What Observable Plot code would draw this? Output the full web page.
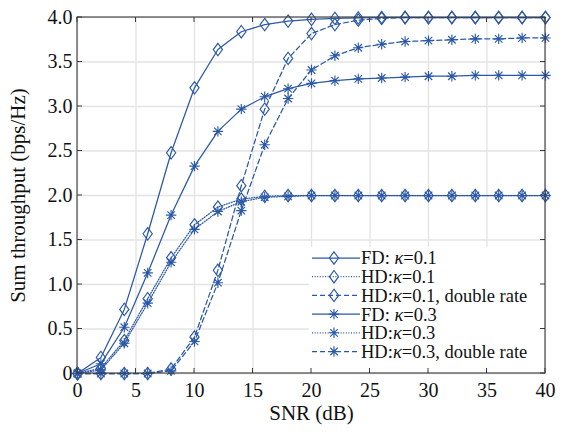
<!DOCTYPE html>
<html>
<head>
<meta charset="utf-8">
<script src="https://cdn.jsdelivr.net/npm/d3@7"></script>
<script src="https://cdn.jsdelivr.net/npm/@observablehq/plot@0.6"></script>
<style>
  html, body { margin: 0; padding: 0; background: #fff; }
  #chart { width: 565px; height: 435px; }
  #chart svg text { font-family: "Liberation Serif", "Times New Roman", serif; }
</style>
</head>
<body>
<div id="chart"></div>
<script>
// ---- data ----
const snr = [0, 2, 4, 6, 8, 10, 12, 14, 16, 18, 20, 22, 24, 26, 28, 30, 32, 34, 36, 38, 40];
const fdK01 = [0, 0.18, 0.72, 1.57, 2.48, 3.21, 3.64, 3.84, 3.92, 3.96, 3.98, 3.99, 3.995, 4.0, 4.0, 4.0, 4.0, 4.0, 4.0, 4.0, 4.0];
const hdK01 = [0, 0.06, 0.37, 0.84, 1.30, 1.67, 1.87, 1.96, 1.99, 2.0, 2.0, 2.0, 2.0, 2.0, 2.0, 2.0, 2.0, 2.0, 2.0, 2.0, 2.0];
const hdK01Double = [0, 0, 0, 0, 0.05, 0.41, 1.16, 2.11, 2.97, 3.54, 3.82, 3.92, 3.97, 3.99, 4.0, 4.0, 4.0, 4.0, 4.0, 4.0, 4.0];
const fdK03 = [0, 0.11, 0.52, 1.13, 1.78, 2.33, 2.72, 2.97, 3.11, 3.20, 3.26, 3.29, 3.31, 3.32, 3.33, 3.34, 3.34, 3.35, 3.35, 3.35, 3.35];
const hdK03 = [0, 0.04, 0.34, 0.79, 1.25, 1.62, 1.82, 1.93, 1.98, 1.99, 2.0, 2.0, 2.0, 2.0, 2.0, 2.0, 2.0, 2.0, 2.0, 2.0, 2.0];
const hdK03Double = [0, 0, 0, 0, 0.03, 0.36, 1.02, 1.83, 2.57, 3.09, 3.41, 3.57, 3.66, 3.70, 3.73, 3.74, 3.75, 3.76, 3.76, 3.77, 3.77];

const seriesLabels = [
  ["FD: ", "=0.1", ""],
  ["HD:", "=0.1", ""],
  ["HD:", "=0.1", ", double rate"],
  ["FD: ", "=0.3", ""],
  ["HD:", "=0.3", ""],
  ["HD:", "=0.3", ", double rate"]
];
const seriesValues = [fdK01, hdK01, hdK01Double, fdK03, hdK03, hdK03Double];
const xTicks = [0, 5, 10, 15, 20, 25, 30, 35, 40];
const yTicks = [0, 0.5, 1.0, 1.5, 2.0, 2.5, 3.0, 3.5, 4.0];
const xTitle = "SNR (dB)";
const yTitle = "Sum throughput (bps/Hz)";

// ---- styles ----
const blue = "#2b59a6";
const serif = "Liberation Serif";
const diamondTall = {
  draw(ctx, size) {
    const r = Math.sqrt(size / Math.PI);
    const w = r, h = r * 1.35;
    ctx.moveTo(0, -h); ctx.lineTo(w, 0); ctx.lineTo(0, h); ctx.lineTo(-w, 0); ctx.closePath();
  }
};
const star8 = {
  draw(ctx, size) {
    const r = Math.sqrt(size / Math.PI);
    const d = r * 0.72;
    ctx.moveTo(0, -r); ctx.lineTo(0, r);
    ctx.moveTo(-r, 0); ctx.lineTo(r, 0);
    ctx.moveTo(-d, -d); ctx.lineTo(d, d);
    ctx.moveTo(-d, d); ctx.lineTo(d, -d);
  }
};
const styles = [
  {dash: null, symbol: diamondTall, r: 4.6},
  {dash: "1,1.6", symbol: diamondTall, r: 4.6},
  {dash: "5,3", symbol: diamondTall, r: 4.6},
  {dash: null, symbol: star8, r: 5.2},
  {dash: "1,1.6", symbol: star8, r: 5.2},
  {dash: "5,3", symbol: star8, r: 5.2}
];

const W = 565, H = 435;
const M = {top: 17, right: 20, bottom: 62, left: 77};

const tables = seriesValues.map(vals => snr.map((s, i) => ({snr: s, v: vals[i]})));

const marks = [
  Plot.gridX(xTicks, {stroke: "#e3e3e3", strokeOpacity: 1, strokeWidth: 1.3}),
  Plot.gridY(yTicks, {stroke: "#e3e3e3", strokeOpacity: 1, strokeWidth: 1.3}),
  Plot.axisX(xTicks, {tickSize: 0, tickPadding: 9, tickFormat: d => String(d), label: null, fontSize: 20}),
  Plot.axisY(yTicks, {tickSize: 0, tickPadding: 5, tickFormat: d => d === 0 ? "0" : d.toFixed(1), label: null, fontSize: 20}),
  Plot.text([xTitle], {frameAnchor: "bottom", dy: 46, fontSize: 21, fill: "#111", textAnchor: "middle"}),
  Plot.text([yTitle], {frameAnchor: "left", dx: -59, rotate: -90, fontSize: 21, fill: "#111", textAnchor: "middle"})
];
tables.forEach((t, k) => {
  const st = styles[k];
  marks.push(Plot.line(t, {x: "snr", y: "v", stroke: blue, strokeWidth: 1.25, strokeDasharray: st.dash}));
  marks.push(Plot.dot(t, {x: "snr", y: "v", symbol: st.symbol, r: st.r, fill: "none", stroke: blue, strokeWidth: 1.15}));
});

const chart = Plot.plot({
  width: W, height: H,
  marginTop: M.top, marginRight: M.right, marginBottom: M.bottom, marginLeft: M.left,
  style: {fontFamily: serif, fontSize: "20px", background: "#fff", color: "#111"},
  x: {domain: [0, 40], type: "linear"},
  y: {domain: [0, 4], type: "linear"},
  marks
});
document.getElementById("chart").appendChild(chart);

// ---- legend (pixel space inside the axes) ----
const svgSel = d3.select(chart);
const innerW = W - M.left - M.right, innerH = H - M.top - M.bottom;
const lgX = W - M.right - 236, lgY = H - M.bottom - 126;
const lg = svgSel.append("g").attr("class", "legend").attr("text-anchor", "start");
lg.append("rect").attr("x", lgX).attr("y", lgY).attr("width", 235).attr("height", 125)
  .attr("fill", "#fff").attr("stroke", "none");
const rowH = 18.7;
seriesLabels.forEach((lab, k) => {
  const st = styles[k];
  const cy = lgY + 11 + k * rowH;
  lg.append("line").attr("x1", lgX + 3).attr("x2", lgX + 51).attr("y1", cy).attr("y2", cy)
    .attr("stroke", blue).attr("stroke-width", 1.25).attr("stroke-dasharray", st.dash);
  lg.append("path").attr("d", d3.symbol(st.symbol, Math.PI * st.r * st.r)())
    .attr("transform", `translate(${lgX + 25},${cy})`)
    .attr("fill", "none").attr("stroke", blue).attr("stroke-width", 1.15);
  const t = lg.append("text").attr("x", lgX + 52).attr("y", cy).attr("dy", "0.35em")
    .attr("text-anchor", "start").attr("font-size", 18.5).attr("font-family", serif).attr("fill", "#111");
  t.append("tspan").text(lab[0]);
  t.append("tspan").attr("font-style", "italic").text("\u03BA");
  t.append("tspan").text(lab[1] + lab[2]);
});
svgSel.selectAll("text").attr("font-family", serif);

// ---- frame and inward ticks drawn on top ----
const xs = chart.scale("x"), ys = chart.scale("y");
const frameG = svgSel.append("g").attr("stroke", "#3a3a3a").attr("fill", "none");
frameG.append("rect").attr("x", M.left).attr("y", M.top).attr("width", innerW).attr("height", innerH).attr("stroke-width", 1.1);
xTicks.forEach(v => {
  const px = xs.apply(v);
  frameG.append("line").attr("x1", px).attr("x2", px).attr("y1", M.top + innerH).attr("y2", M.top + innerH - 5);
  frameG.append("line").attr("x1", px).attr("x2", px).attr("y1", M.top).attr("y2", M.top + 5);
});
yTicks.forEach(v => {
  const py = ys.apply(v);
  frameG.append("line").attr("x1", M.left).attr("x2", M.left + 5).attr("y1", py).attr("y2", py);
  frameG.append("line").attr("x1", M.left + innerW).attr("x2", M.left + innerW - 5).attr("y1", py).attr("y2", py);
});
</script>
</body>
</html>
